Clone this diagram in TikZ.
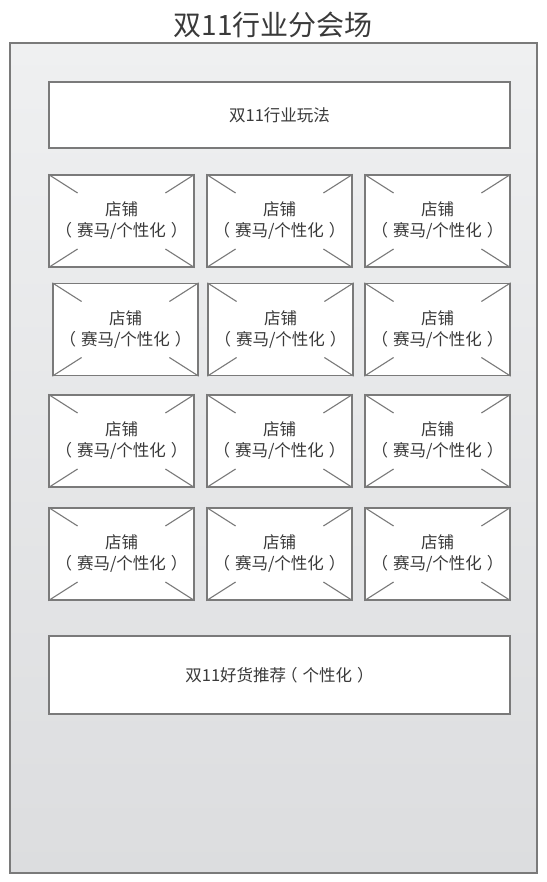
\documentclass[tikz,border=0pt]{standalone}
\usepackage{fontspec}
\newfontfamily\cjk{Noto Sans CJK SC}
\usetikzlibrary{calc}
\definecolor{edge}{HTML}{7A7A7A}
\definecolor{ink}{HTML}{3A3A3A}
\definecolor{bgtop}{HTML}{EFF0F1}
\definecolor{bgbot}{HTML}{DCDDDF}
\newcommand{\lp}{（\hspace{5pt}}
\newcommand{\rp}{\hspace{5pt}）}
\tikzset{
  frame/.style={draw=edge, line width=1.5pt},
  banner/.style={draw=edge, fill=white, line width=1.3pt, inner sep=0pt,
    minimum width=461pt, text=ink, font=\cjk\fontsize{16.5}{21}\selectfont},
  shop/.style={draw=edge, fill=white, line width=1.3pt, inner sep=0pt,
    minimum width=145pt, minimum height=92pt, align=center, text=ink,
    font=\cjk\fontsize{16.5}{21}\selectfont},
  diag/.style={draw=edge, line width=1.1pt},
  titletext/.style={text=ink, font=\cjk\fontsize{28}{32}\selectfont, inner sep=0pt}
}
\newcommand{\shopbox}[3]{%
  \node[shop] (#1) at (#2,#3) {店铺\\\lp 赛马/个性化\rp};
  \draw[diag] (#1.north west) -- ($(#1.north west)!0.2!(#1.south east)$);
  \draw[diag] (#1.north east) -- ($(#1.north east)!0.2!(#1.south west)$);
  \draw[diag] (#1.south west) -- ($(#1.south west)!0.2!(#1.north east)$);
  \draw[diag] (#1.south east) -- ($(#1.south east)!0.2!(#1.north west)$);
}
\begin{document}
\begin{tikzpicture}[x=1pt,y=-1pt]
\useasboundingbox (0,0) rectangle (546,882);
\shade[top color=bgtop, bottom color=bgbot] (10,43) rectangle (537,873);
\draw[frame] (10,43) rectangle (537,873);
\node[titletext] (title) at (273,25) {双11行业分会场};
\node[banner, minimum height=66pt] (play) at (279.5,115) {双11行业玩法};
\shopbox{s11}{121.5}{221}
\shopbox{s12}{279.5}{221}
\shopbox{s13}{437.5}{221}
\shopbox{s21}{125.5}{329.5}
\shopbox{s22}{280.5}{329.5}
\shopbox{s23}{437.5}{329.5}
\shopbox{s31}{121.5}{441}
\shopbox{s32}{279.5}{441}
\shopbox{s33}{437.5}{441}
\shopbox{s41}{121.5}{554}
\shopbox{s42}{279.5}{554}
\shopbox{s43}{437.5}{554}
\node[banner, minimum height=78pt] (rec) at (279.5,675) {双11好货推荐\hspace{-5pt}\lp 个性化\rp};
\end{tikzpicture}
\end{document}
